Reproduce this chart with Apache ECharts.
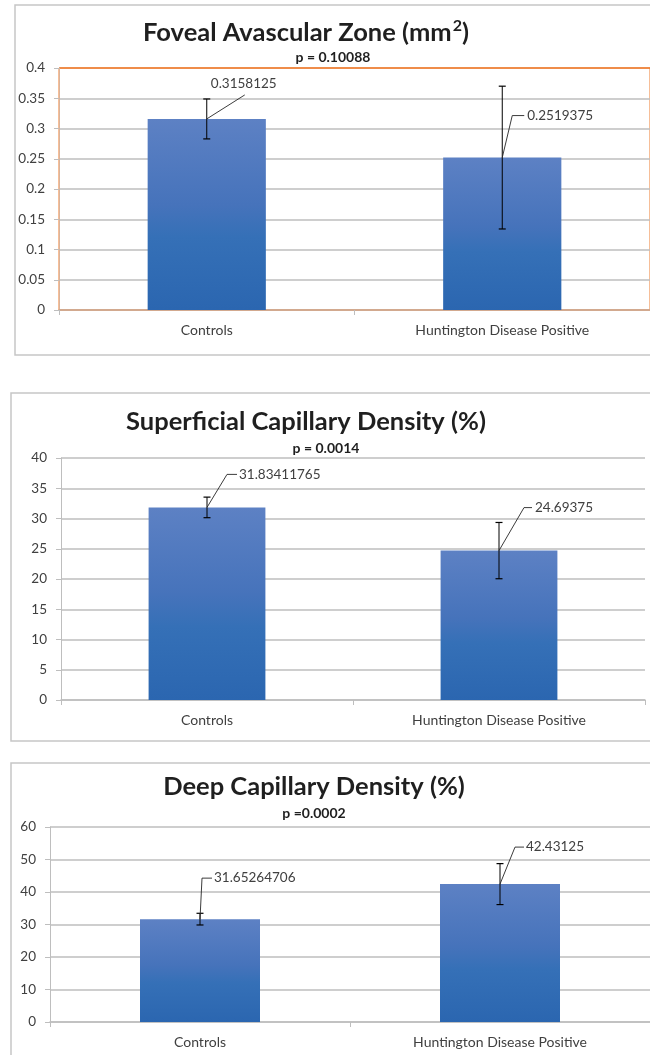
<!DOCTYPE html>
<html>
<head>
<meta charset="utf-8">
<script src="https://cdn.jsdelivr.net/npm/echarts@6/dist/echarts.min.js"></script>
<style>
  html, body { margin: 0; padding: 0; background: #ffffff; }
  #chart { width: 650px; height: 1055px; }
</style>
</head>
<body>
<div id="chart"></div>
<script>
// ---- data ----
const categories = ['Controls', 'Huntington Disease Positive'];

const fazMean = [0.3158125, 0.2519375];
const fazErr = [0.033, 0.118];

const scdMean = [31.83411765, 24.69375];
const scdErr = [1.7, 4.65];

const dcdMean = [31.65264706, 42.43125];
const dcdErr = [1.8, 6.3];

const titles = ['{a|Foveal Avascular Zone (mm}{s|2}{a|)}', '{a|Superficial Capillary Density (%)}', '{a|Deep Capillary Density (%)}'];
const pTexts = ['p = 0.10088', 'p = 0.0014', 'p =0.0002'];

const yMax = [0.4, 40, 60];
const yStep = [0.05, 5, 10];

// ---- layout / styles ----
const FONT = 'Lato, "Open Sans", sans-serif';
const TXT = '#404040';
const GRIDC = '#BEBEBE';

const grids = [
  { left: 59, top: 68, width: 600, height: 242 },
  { left: 61, top: 458, width: 584, height: 242 },
  { left: 50, top: 827, width: 600, height: 195 }
];
const titleY = [33, 422, 787];
const pY = [57, 448, 813];
const titleX = [306, 306, 314];
const pX = [333, 326, 314];

// leader line layout relative to bar top: knee, end, text position, text align
const leaders = [
  [ { k: [38, -24], e: null, t: [37, -35], a: 'center' }, { k: [10, -42], e: [22, -42], t: [25, -42], a: 'left' } ],
  [ { k: [20, -33], e: [30, -33], t: [32, -33], a: 'left' }, { k: [25, -43], e: [33, -43], t: [36, -43], a: 'left' } ],
  [ { k: [2, -41], e: [12, -41], t: [14, -41], a: 'left' }, { k: [15, -37], e: [24, -37], t: [26, -37], a: 'left' } ]
];

const means = [fazMean, scdMean, dcdMean];
const errs = [fazErr, scdErr, dcdErr];

const barGradient = new echarts.graphic.LinearGradient(0, 0, 0, 1, [
  { offset: 0, color: '#5D81C4' },
  { offset: 0.45, color: '#4673BB' },
  { offset: 0.62, color: '#3570B7' },
  { offset: 1, color: '#2B66B0' }
]);

function makeErrSeries(p) {
  const data = means[p].map((m, i) => [i, m, errs[p][i]]);
  return {
    type: 'custom',
    xAxisIndex: p, yAxisIndex: p,
    z: 10,
    clip: false,
    data: data,
    renderItem: function (params, api) {
      const i = api.value(0), m = api.value(1), e = api.value(2);
      const top = api.coord([i, m]);
      const hi = api.coord([i, m + e]);
      const lo = api.coord([i, m - e]);
      const cap = 3.5;
      const L = leaders[p][i];
      const children = [
        { type: 'line', shape: { x1: top[0], y1: hi[1], x2: top[0], y2: lo[1] }, style: { stroke: '#000', lineWidth: 1 } },
        { type: 'line', shape: { x1: top[0] - cap, y1: hi[1], x2: top[0] + cap, y2: hi[1] }, style: { stroke: '#000', lineWidth: 1.2 } },
        { type: 'line', shape: { x1: top[0] - cap, y1: lo[1], x2: top[0] + cap, y2: lo[1] }, style: { stroke: '#000', lineWidth: 1.2 } }
      ];
      const pts = [[top[0], top[1]], [top[0] + L.k[0], top[1] + L.k[1]]];
      if (L.e) pts.push([top[0] + L.e[0], top[1] + L.e[1]]);
      children.push({ type: 'polyline', shape: { points: pts }, style: { stroke: '#262626', lineWidth: 0.9, fill: null } });
      children.push({
        type: 'text',
        x: top[0] + L.t[0], y: top[1] + L.t[1],
        style: { text: String(m), fill: TXT, font: '13.5px ' + FONT, align: L.a, verticalAlign: 'middle' }
      });
      return { type: 'group', children: children };
    }
  };
}

const xAxes = [], yAxes = [], series = [], gridOpts = [];
for (let p = 0; p < 3; p++) {
  const g = Object.assign({ containLabel: false }, grids[p]);
  if (p === 0) { g.show = true; g.borderColor = '#ED7D31'; g.borderWidth = 1; g.backgroundColor = 'transparent'; }
  gridOpts.push(g);
  const nLines = Math.round(yMax[p] / yStep[p]) + 1;
  const splitColors = [];
  for (let k = 0; k < nLines; k++) splitColors.push(GRIDC);
  if (p === 0) { splitColors[nLines - 1] = '#ED7D31'; }
  xAxes.push({
    type: 'category', gridIndex: p, data: categories,
    axisLine: { show: true, lineStyle: { color: p === 0 ? '#D4A383' : GRIDC, width: 1.5 } },
    axisTick: { show: true, alignWithLabel: false, length: 5, lineStyle: { color: GRIDC } },
    axisLabel: { color: TXT, fontSize: 14, fontFamily: FONT, margin: 13 },
    splitLine: { show: false }
  });
  yAxes.push({
    type: 'value', gridIndex: p, min: 0, max: yMax[p], interval: yStep[p],
    axisLine: { show: true, lineStyle: { color: p === 0 ? '#D9B49C' : GRIDC, width: 1 } },
    axisTick: { show: true, length: 5, lineStyle: { color: GRIDC } },
    axisLabel: { color: TXT, fontSize: 13.5, fontFamily: FONT, margin: 14 },
    splitLine: { show: true, lineStyle: { color: splitColors, width: 1.6 } }
  });
  series.push({
    type: 'bar', xAxisIndex: p, yAxisIndex: p, data: means[p],
    barWidth: '40%',
    itemStyle: { color: barGradient },
    silent: true
  });
  series.push(makeErrSeries(p));
}

const graphics = [
  { type: 'rect', shape: { x: 15, y: 5, width: 700, height: 350 }, style: { fill: null, stroke: '#C6C6C6', lineWidth: 1.5 }, z: -1 },
  { type: 'rect', shape: { x: 11, y: 393, width: 700, height: 348 }, style: { fill: null, stroke: '#C6C6C6', lineWidth: 1.5 }, z: -1 },
  { type: 'rect', shape: { x: 11, y: 763, width: 700, height: 400 }, style: { fill: null, stroke: '#C6C6C6', lineWidth: 1.5 }, z: -1 }
];
for (let p = 0; p < 3; p++) {
  graphics.push({
    type: 'text', x: titleX[p], y: titleY[p],
    style: {
      text: titles[p], align: 'center', verticalAlign: 'middle',
      rich: {
        a: { fill: '#1F1F1F', font: 'bold 25.5px ' + FONT, lineHeight: 30 },
        s: { fill: '#1F1F1F', font: 'bold 16px ' + FONT, lineHeight: 30, verticalAlign: 'top', padding: [0, 0, 10, 1] }
      }
    }
  });
  graphics.push({ type: 'text', x: pX[p], y: pY[p], style: { text: pTexts[p], fill: '#1F1F1F', font: 'bold 14px ' + FONT, align: 'center', verticalAlign: 'middle' } });
}

const chart = echarts.init(document.getElementById('chart'), null, { renderer: 'canvas' });
chart.setOption({
  animation: false,
  backgroundColor: '#ffffff',
  grid: gridOpts,
  xAxis: xAxes,
  yAxis: yAxes,
  series: series,
  graphic: graphics
});
</script>
</body>
</html>
